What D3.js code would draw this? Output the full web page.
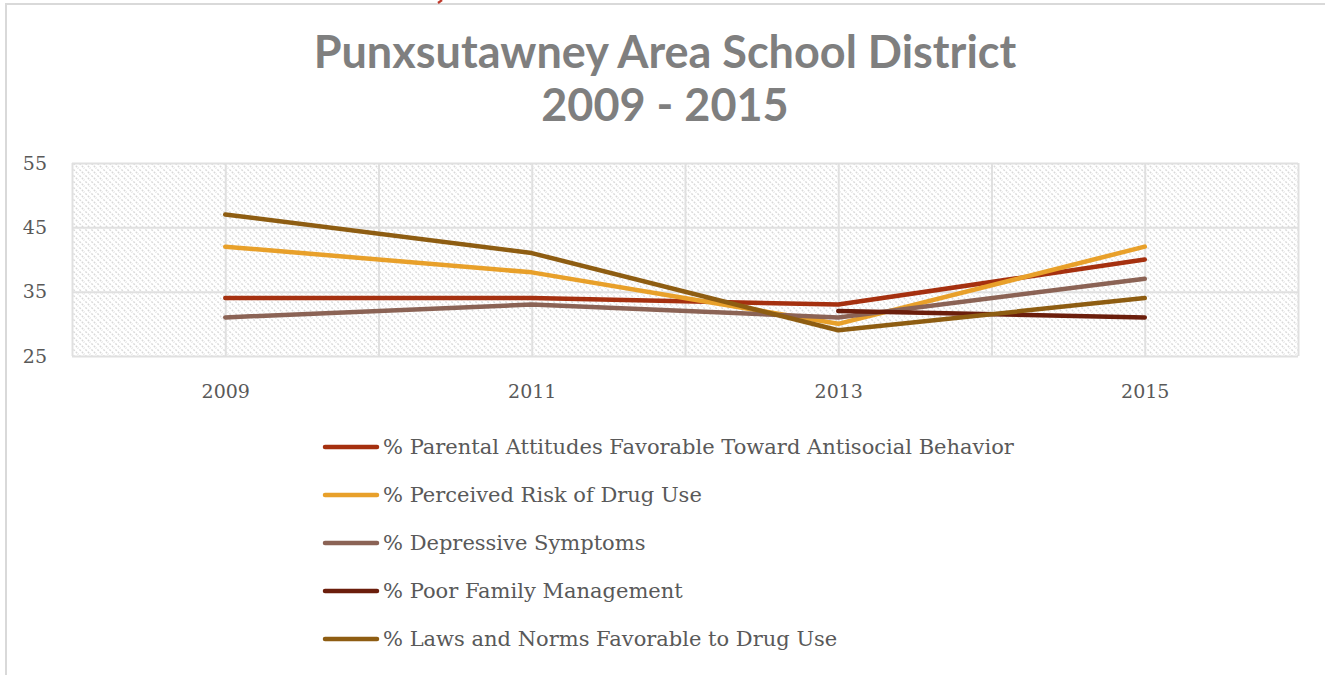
<!DOCTYPE html>
<html><head><meta charset="utf-8">
<script src="https://cdn.jsdelivr.net/npm/d3@7"></script>
<style>body{margin:0;background:#fff;} svg{display:block;}</style>
</head><body>
<svg id="chart" width="1325" height="675"></svg>
<script>
const years = [2009, 2011, 2013, 2015];
const seriesNames = [
  "% Parental Attitudes Favorable Toward Antisocial Behavior",
  "% Perceived Risk of Drug Use",
  "% Depressive Symptoms",
  "% Poor Family Management",
  "% Laws and Norms Favorable to Drug Use"
];
const parental = [34, 34, 33, 40];
const perceivedRisk = [42, 38, 30, 42];
const depressive = [31, 33, 31, 37];
const poorFamily = [null, null, 32, 31];
const lawsNorms = [47, 41, 29, 34];
const seriesColors = ["#A5300F", "#E8A02A", "#8B6355", "#6B1E0C", "#8E5D12"];
const yTicks = [25, 35, 45, 55];
const xTicks = [2009, 2011, 2013, 2015];
const titleLines = ["Punxsutawney Area School District", "2009 - 2015"];

const allSeries = [parental, perceivedRisk, depressive, poorFamily, lawsNorms];

const svg = d3.select("#chart");
const defs = svg.append("defs");
const pat = defs.append("pattern").attr("id","hatch").attr("patternUnits","userSpaceOnUse")
  .attr("width",6).attr("height",6);
pat.append("rect").attr("width",6).attr("height",6).attr("fill","#fff");
pat.append("path").attr("d","M-1,-1 L7,7 M-1,5 L1,7 M5,-1 L7,1")
  .attr("stroke","#d9d9d9").attr("stroke-width",1.4).attr("stroke-dasharray","2,1.4");

// frame
svg.append("rect").attr("x",6).attr("y",4).attr("width",1330).attr("height",680)
  .attr("fill","none").attr("stroke","#d9d9d9").attr("stroke-width",2);
// clipped fragment of red text above the frame
svg.append("path").attr("d","M442,0 L438,3").attr("stroke","#C0392B").attr("stroke-width",2.2);

// title
svg.selectAll(".title").data(titleLines).enter().append("text")
  .attr("x",665).attr("y",(d,i)=>68+i*53).attr("text-anchor","middle")
  .attr("font-family","Lato, 'Open Sans', sans-serif").attr("font-weight","bold")
  .attr("font-size",45).attr("fill","#7f7f7f").text(d=>d);

const pLeft=72, pRight=1298, pTop=163, pBottom=356;
const x = d3.scaleLinear().domain([2008, 2016]).range([pLeft, pRight]);
const y = d3.scaleLinear().domain([25, 55]).range([pBottom, pTop]);

svg.append("rect").attr("x",pLeft).attr("y",pTop).attr("width",pRight-pLeft).attr("height",pBottom-pTop)
  .attr("fill","url(#hatch)");

// gridlines
const gx = svg.append("g").attr("transform",`translate(0,${pBottom})`)
  .call(d3.axisBottom(x).tickValues(d3.range(2008,2017)).tickSize(-(pBottom-pTop)).tickFormat(""));
gx.select(".domain").remove();
gx.selectAll("line").attr("stroke","#e0e0e0").attr("stroke-width",2);
const gy = svg.append("g").attr("transform",`translate(${pLeft},0)`)
  .call(d3.axisLeft(y).tickValues(yTicks).tickSize(-(pRight-pLeft)).tickFormat(""));
gy.select(".domain").remove();
gy.selectAll("line").attr("stroke","#e0e0e0").attr("stroke-width",2);

// axis labels
const ax = svg.append("g").attr("transform",`translate(0,${pBottom})`)
  .call(d3.axisBottom(x).tickValues(xTicks).tickSize(0).tickPadding(29).tickFormat(d3.format("d")));
ax.select(".domain").remove();
ax.selectAll("text").attr("font-family","'DejaVu Serif', serif").attr("font-size",19).attr("fill","#595959");
const ay = svg.append("g").attr("transform",`translate(${pLeft},0)`)
  .call(d3.axisLeft(y).tickValues(yTicks).tickSize(0).tickPadding(25).tickFormat(d3.format("d")));
ay.select(".domain").remove();
ay.selectAll("text").attr("font-family","'DejaVu Serif', serif").attr("font-size",19).attr("fill","#595959");

// lines
const line = d3.line().defined(d=>d.v!=null).x(d=>x(d.yr)).y(d=>y(d.v));
allSeries.forEach((s,i)=>{
  const pts = years.map((yr,j)=>({yr, v:s[j]}));
  svg.append("path").datum(pts).attr("d",line).attr("fill","none")
    .attr("stroke",seriesColors[i]).attr("stroke-width",4.5)
    .attr("stroke-linecap","round").attr("stroke-linejoin","round");
});

// legend
const lg = svg.selectAll(".leg").data(seriesNames).enter().append("g")
  .attr("transform",(d,i)=>`translate(325,${447+i*48})`);
lg.append("line").attr("x1",0).attr("x2",52).attr("stroke",(d,i)=>seriesColors[i])
  .attr("stroke-width",4.5).attr("stroke-linecap","round");
lg.append("text").attr("x",58).attr("y",7).attr("font-family","'DejaVu Serif', serif")
  .attr("font-size",21).attr("fill","#595959").text(d=>d);
</script>
</body></html>
